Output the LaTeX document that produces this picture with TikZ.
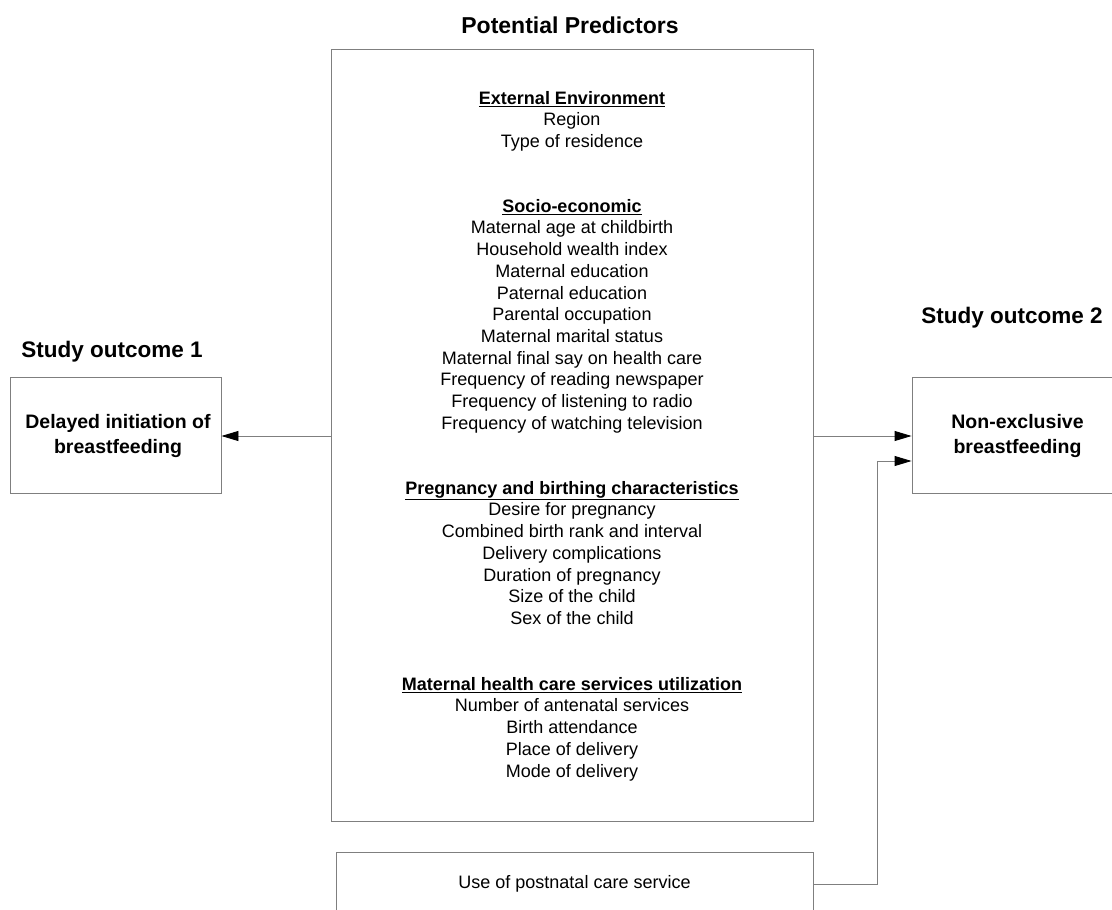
\documentclass[tikz,border=0pt]{standalone}
\usepackage{fontspec}
\setmainfont{Liberation Sans}
\usetikzlibrary{arrows.meta}
\definecolor{linegray}{HTML}{7F7F7F}
\tikzset{
  box/.style={draw=linegray, line width=0.9pt, inner sep=0pt},
  conn/.style={draw=linegray, line width=0.9pt, -{Triangle[length=17pt,width=10pt,black]}},
  head/.style={font=\fontsize{22.5}{27}\selectfont\bfseries},
  outtext/.style={font=\fontsize{19.5}{25}\selectfont\bfseries, align=center},
  sect/.style={font=\fontsize{18}{21.7}\selectfont, align=center, anchor=north, inner sep=0pt},
}
\newcommand{\sechead}[1]{\textbf{\underline{#1}}}
\begin{document}
\begin{tikzpicture}[x=1pt,y=-1pt]
\useasboundingbox (0,0) rectangle (1112,910);
% titles
\node[head, font=\fontsize{23}{27}\selectfont\bfseries] (tpred) at (570,25) {Potential Predictors};
\node[head] (tout1) at (112,352) {Study outcome 1};
\node[head] (tout2) at (1012,318) {Study outcome 2};
% boxes
\node[box, minimum width=482pt, minimum height=772pt] (main) at (572,435) {};
\node[box, minimum width=211pt, minimum height=116pt] (left) at (115.5,435) {};
\node[outtext] (lefttext) at (118,436) {Delayed initiation of\\breastfeeding};
\node[box, minimum width=211pt, minimum height=116pt] (right) at (1017.5,435) {};
\node[outtext] (righttext) at (1017.5,436) {Non-exclusive\\breastfeeding};
\node[box, minimum width=477pt, minimum height=64pt, font=\fontsize{18}{21.7}\selectfont] (post) at (574.5,884) {Use of postnatal care service};
% sections
\node[sect] (s1) at (572,91) {\sechead{External Environment}\\Region\\Type of residence};
\node[sect] (s2) at (572,199) {\sechead{Socio-economic}\\Maternal age at childbirth\\Household wealth index\\Maternal education\\Paternal education\\Parental occupation\\Maternal marital status\\Maternal final say on health care\\Frequency of reading newspaper\\Frequency of listening to radio\\Frequency of watching television};
\node[sect] (s3) at (572,481) {\sechead{Pregnancy and birthing characteristics}\\Desire for pregnancy\\Combined birth rank and interval\\Delivery complications\\Duration of pregnancy\\Size of the child\\Sex of the child};
\node[sect] (s4) at (572,677) {\sechead{Maternal health care services utilization}\\Number of antenatal services\\Birth attendance\\Place of delivery\\Mode of delivery};
% connectors
\coordinate (bend) at (877,884);
\draw[conn] (main.west |- 0,436) -- (left.east |- 0,436);
\draw[conn] (main.east |- 0,436) -- (right.west |- 0,436);
\draw[conn] (post.east) -- (bend) -- (bend |- 0,461) -- (right.west |- 0,461);
\end{tikzpicture}
\end{document}
